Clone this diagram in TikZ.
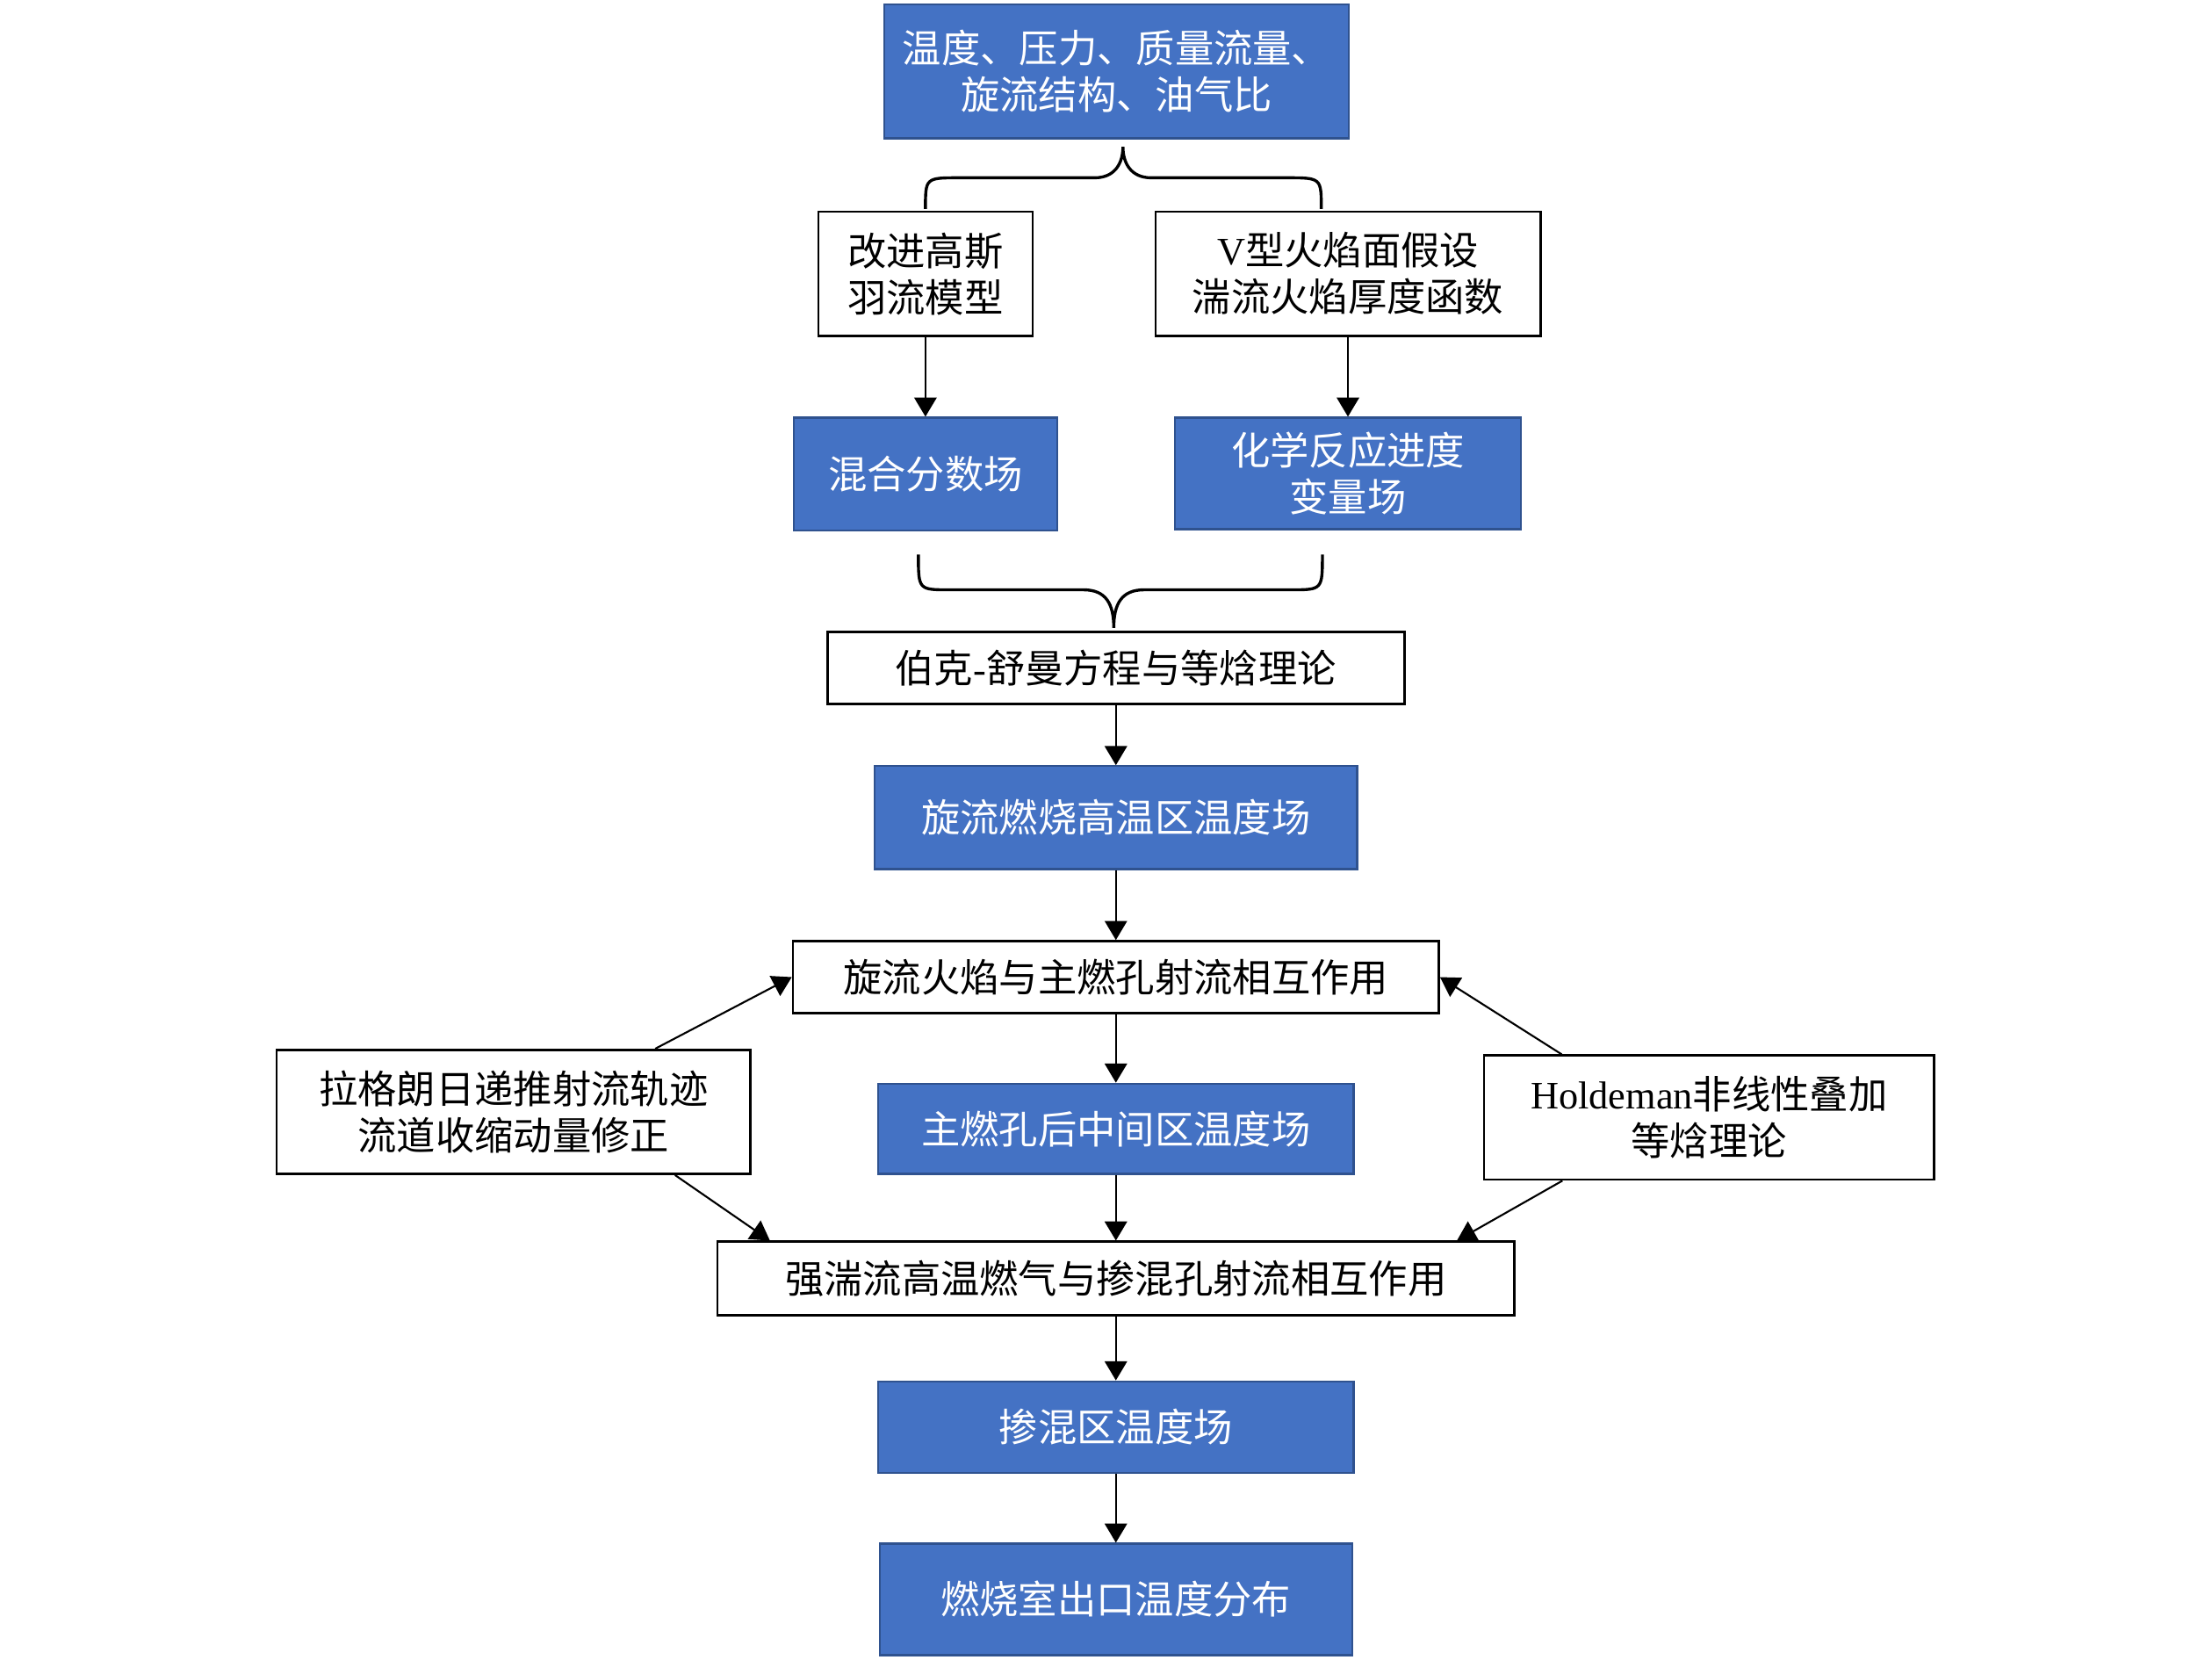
\documentclass[tikz,border=0pt]{standalone}
\usepackage{fontspec}
\setmainfont{Liberation Serif}
\newfontfamily\cjk{Noto Sans CJK SC}
\usetikzlibrary{arrows.meta}
\definecolor{fieldblue}{HTML}{4472C4}
\definecolor{fieldedge}{HTML}{2F528F}

\begin{document}
\begin{tikzpicture}[x=0.02cm,y=-0.02cm,
  every node/.style={font=\cjk\fontsize{15.7}{18.8}\selectfont, align=center, inner sep=0pt},
  fieldbox/.style={draw=fieldedge, line width=0.8pt, fill=fieldblue, text=white},
  theorybox/.style={draw=black, line width=0.9pt, fill=white},
  arr/.style={-{Triangle[length=7.7pt,width=9pt]}, line width=0.75pt},
  brace/.style={line width=1.2pt}]
  \useasboundingbox (0,0) rectangle (1568,1176);

  \node[fieldbox, minimum width=6.58cm, minimum height=1.90cm] (input) at (791.5,50.5) {温度、压力、质量流量、\\旋流结构、油气比};
  \node[theorybox, minimum width=3.04cm, minimum height=1.76cm] (gauss) at (656,194) {改进高斯\\羽流模型};
  \node[theorybox, minimum width=5.46cm, minimum height=1.76cm] (vflame) at (955.5,194) {{\rmfamily V}型火焰面假设\\湍流火焰厚度函数};
  \node[fieldbox, minimum width=3.74cm, minimum height=1.60cm] (mixfrac) at (656,336) {混合分数场};
  \node[fieldbox, minimum width=4.90cm, minimum height=1.58cm] (progress) at (955.5,335.5) {化学反应进度\\变量场};
  \node[theorybox, minimum width=8.18cm, minimum height=1.02cm] (burke) at (791,473.5) {伯克{\rmfamily -}舒曼方程与等焓理论};
  \node[fieldbox, minimum width=6.84cm, minimum height=1.46cm] (hightemp) at (791,579.5) {旋流燃烧高温区温度场};
  \node[theorybox, minimum width=9.16cm, minimum height=1.02cm] (swirl) at (791,692.5) {旋流火焰与主燃孔射流相互作用};
  \node[theorybox, minimum width=6.72cm, minimum height=1.76cm] (lagrange) at (364,788) {拉格朗日递推射流轨迹\\流道收缩动量修正};
  \node[fieldbox, minimum width=6.74cm, minimum height=1.28cm] (middle) at (791,800) {主燃孔后中间区温度场};
  \node[theorybox, minimum width=6.38cm, minimum height=1.76cm] (holdeman) at (1211.5,792) {{\rmfamily Holdeman}非线性叠加\\等焓理论};
  \node[theorybox, minimum width=11.30cm, minimum height=1.04cm] (dilmix) at (791,906) {强湍流高温燃气与掺混孔射流相互作用};
  \node[fieldbox, minimum width=6.74cm, minimum height=1.30cm] (dilution) at (791,1011.5) {掺混区温度场};
  \node[fieldbox, minimum width=6.70cm, minimum height=1.58cm] (outlet) at (791,1133.5) {燃烧室出口温度分布};

  % braces
  \draw[brace] (656,148) .. controls (656,126) .. (680,126) -- (776,126)
    .. controls (790,126) and (796,116) .. (796,104)
    .. controls (796,116) and (802,126) .. (816,126) -- (912,126)
    .. controls (936.6,126) .. (936.6,148);
  \draw[brace] (651,393) .. controls (651,418) .. (673,418) -- (768,418)
    .. controls (784,418) and (789.5,428) .. (789.5,445)
    .. controls (789.5,428) and (795,418) .. (811,418) -- (915,418)
    .. controls (937.4,418) .. (937.4,393);

  \draw[arr] (gauss) -- (mixfrac);
  \draw[arr] (vflame) -- (progress);
  \draw[arr] (burke) -- (hightemp);
  \draw[arr] (hightemp) -- (swirl);
  \draw[arr] (swirl) -- (middle);
  \draw[arr] (middle) -- (dilmix);
  \draw[arr] (dilmix) -- (dilution);
  \draw[arr] (dilution) -- (outlet);

  \draw[arr] ([xshift=2.01cm]lagrange.north) -- (swirl.west);
  \draw[arr] ([xshift=2.29cm]lagrange.south) -- ([xshift=0.76cm]dilmix.north west);
  \draw[arr] ([xshift=-2.09cm]holdeman.north) -- (swirl.east);
  \draw[arr] ([xshift=-2.08cm]holdeman.south) -- ([xshift=-0.83cm]dilmix.north east);
\end{tikzpicture}
\end{document}
